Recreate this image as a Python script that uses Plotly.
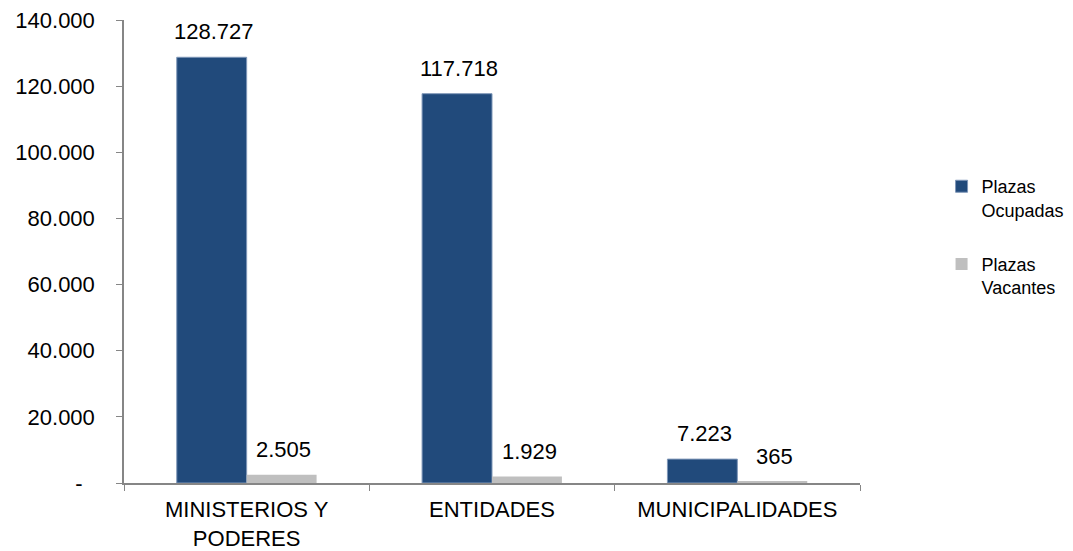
import plotly.graph_objects as go

categories = ["MINISTERIOS Y<br>PODERES", "ENTIDADES", "MUNICIPALIDADES"]
ocupadas = [128727, 117718, 7223]
vacantes = [2505, 1929, 365]
ocupadas_labels = ["128.727", "117.718", "7.223"]
vacantes_labels = ["2.505", "1.929", "365"]
tick_vals = [0, 20000, 40000, 60000, 80000, 100000, 120000, 140000]
tick_text = ["-\u00a0\u00a0", "20.000", "40.000", "60.000", "80.000", "100.000", "120.000", "140.000"]

FONT = "Liberation Sans, Arial, sans-serif"
AX = "#868686"

fig = go.Figure()
fig.add_trace(go.Bar(
    x=categories, y=ocupadas, name="Plazas<br>Ocupadas", legendgroup="a",
    marker=dict(color="#214a7b", line=dict(color="#7f97b8", width=1)),
))
fig.add_trace(go.Bar(
    x=categories, y=vacantes, name="Plazas<br>Vacantes", legendgroup="b",
    marker=dict(color="#bfbfbf", line=dict(width=0)),
))

for c, v, t in zip(categories, ocupadas, ocupadas_labels):
    fig.add_annotation(x=c, y=v, text=t, showarrow=False, xanchor="center",
                       yanchor="bottom", xshift=-33, yshift=11,
                       font=dict(family=FONT, size=22, color="#000"))
for c, v, t in zip(categories, vacantes, vacantes_labels):
    fig.add_annotation(x=c, y=v, text=t, showarrow=False, xanchor="center",
                       yanchor="bottom", xshift=37, yshift=11,
                       font=dict(family=FONT, size=22, color="#000"))

fig.update_layout(
    width=1073, height=551,
    margin=dict(l=124, r=213, t=20, b=68, autoexpand=False),
    paper_bgcolor="white", plot_bgcolor="white",
    barmode="group", bargap=0.43, bargroupgap=0,
    font=dict(family=FONT, size=22, color="#000"),
    legend=dict(xref="container", yref="container", x=0.8775, y=0.695,
                xanchor="left", yanchor="top",
                font=dict(family=FONT, size=18, color="#000"),
                valign="top", tracegroupgap=28, itemwidth=30,
                bgcolor="rgba(0,0,0,0)"),
    showlegend=True,
)
fig.update_yaxes(range=[0, 140000], tickvals=tick_vals, ticktext=tick_text,
                 showgrid=False, zeroline=False, showline=True, linecolor=AX,
                 linewidth=1.5, ticks="outside", ticklen=6, tickcolor=AX,
                 tickfont=dict(family=FONT, size=22, color="#000"),
                 ticklabelstandoff=17, automargin=False)
fig.update_xaxes(showgrid=False, showline=True, linecolor=AX, linewidth=1.5,
                 ticks="outside", tickson="boundaries", ticklen=6, tickcolor=AX,
                 tickfont=dict(family=FONT, size=22, color="#000"),
                 ticklabelstandoff=6, automargin=False)

fig.write_html("out.html", config={"displayModeBar": False},
               post_script="document.body.style.margin='0';document.body.style.overflow='hidden';")
